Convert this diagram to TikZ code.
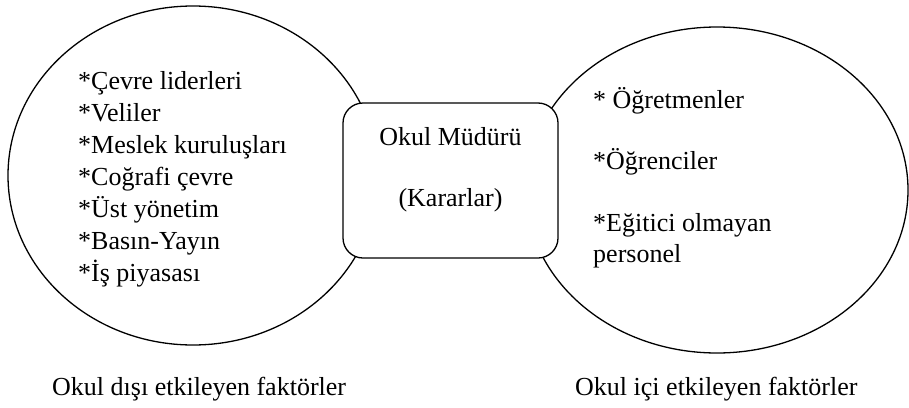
\documentclass[tikz,border=0pt]{standalone}
\usepackage{fontspec}
\setmainfont{Liberation Serif}
\usetikzlibrary{shapes.geometric}

\tikzset{
  field/.style={ellipse, draw, line width=1.3pt, inner sep=0pt},
  chief/.style={draw, fill=white, line width=1.3pt, rounded corners=20pt, inner sep=0pt},
  list/.style={anchor=base west, align=left, inner sep=0pt},
  caption/.style={anchor=base west, inner sep=0pt}
}

\begin{document}
\begin{tikzpicture}[x=1pt, y=-1pt, font=\fontsize{26}{32}\selectfont]
  \useasboundingbox (0,0) rectangle (909,407);
  % the two fields of factors
  \node[field, minimum width=370pt, minimum height=339pt] (outside) at (193,175.5) {};
  \node[field, minimum width=382pt, minimum height=326pt] (inside) at (717,190) {};
  % the principal, drawn over both
  \node[chief, minimum width=215pt, minimum height=155pt] (principal) at (450.5,180.5) {};
  \node[anchor=base, inner sep=0pt] (name) at (450.5,145) {Okul Müdürü};
  \node[anchor=base, inner sep=0pt] (decisions) at (450.5,206) {(Kararlar)};

  % base of a multi-line node = last line
  \node[list] (outlist) at (78,281) {*Çevre liderleri\\*Veliler\\*Meslek kuruluşları\\*Coğrafi çevre\\*Üst yönetim\\*Basın-Yayın\\*İş piyasası};
  \node[list] (teachers) at (593,108) {* Öğretmenler};
  \node[list] (students) at (593,169) {*Öğrenciler};
  \node[list, font=\fontsize{26}{31}\selectfont] (staff) at (593,262) {*Eğitici olmayan\\personel};

  \node[caption] (outcap) at (52,395) {Okul dışı etkileyen faktörler};
  \node[caption] (incap) at (575,395) {Okul içi etkileyen faktörler};
\end{tikzpicture}
\end{document}
